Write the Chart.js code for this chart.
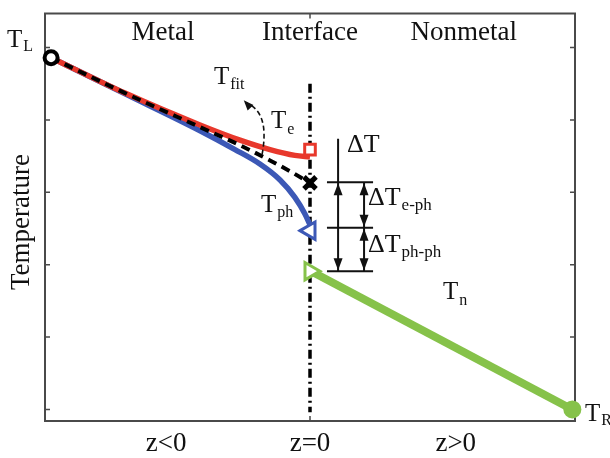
<!DOCTYPE html>
<html>
<head>
<meta charset="utf-8">
<script src="https://cdn.jsdelivr.net/npm/chart.js@4.4.1/dist/chart.umd.min.js"></script>
<style>
body { margin: 0; background: #fff; }
canvas { display: block; }
</style>
</head>
<body>
<canvas id="chart" width="610" height="458"></canvas>
<script>
// z position (interface at 0) and temperature in tick units
const fitZ = [-0.977, -0.698, -0.415, -0.264, -0.151, -0.075, 0];
const fitT = [4.86, 4.37, 3.90, 3.65, 3.44, 3.29, 3.13];
const elecZ = [-0.977, -0.698, -0.415, -0.264, -0.151, -0.057, 0];
const elecT = [4.86, 4.37, 3.93, 3.72, 3.59, 3.51, 3.49];
const phonZ = [-0.977, -0.698, -0.415, -0.283, -0.189, -0.113, -0.057, -0.019, 0];
const phonT = [4.86, 4.36, 3.85, 3.59, 3.39, 3.17, 2.93, 2.70, 2.55];
const nonZ = [0.004, 0.99];
const nonT = [1.91, 0];
const interfaceT = [4.5, -0.04];

// end markers
const leftEnd = [-0.977, 4.86];
const rightEnd = [0.99, 0];
const elecEnd = [0, 3.59];
const fitEnd = [0, 3.13];
const phonEnd = [0, 2.47];
const nonStart = [0, 1.91];

const yTicks = [0, 1, 2, 3, 4, 5];
const xTicks = [0];
const regionLabels = ['Metal', 'Interface', 'Nonmetal'];
const regionZ = [-0.555, 0, 0.58];
const zLabels = ['z<0', 'z=0', 'z>0'];
const zLabelZ = [-0.543, 0, 0.55];
// temperature levels of the jumps at the interface
const jumpT = [3.14, 2.51, 1.91];

const RED = 'rgb(232,56,44)';
const BLUE = 'rgb(60,88,182)';
const GREEN = 'rgb(134,194,74)';
const SERIF = '"Liberation Serif", "DejaVu Serif", serif';

const toPts = (xs, ys) => xs.map((x, i) => ({ x: x, y: ys[i] }));

function marker(p, style, opts) {
    return Object.assign({
        data: [{ x: p[0], y: p[1] }],
        showLine: false,
        pointStyle: style,
        pointBackgroundColor: '#fff',
        clip: false,
        order: -1
    }, opts);
}

function arrowHead(ctx, x, y, dir) {
    ctx.beginPath();
    ctx.moveTo(x, y);
    ctx.lineTo(x - 4.5, y - dir * 12);
    ctx.lineTo(x + 4.5, y - dir * 12);
    ctx.closePath();
    ctx.fill();
}

function subText(ctx, x, y, main, sub, size, subSize, dy) {
    ctx.font = size + 'px ' + SERIF;
    ctx.textAlign = 'left';
    ctx.textBaseline = 'middle';
    ctx.fillText(main, x, y);
    const w = ctx.measureText(main).width;
    ctx.font = subSize + 'px ' + SERIF;
    ctx.fillText(sub, x + w + 1, y + dy);
}

const framePlugin = {
    id: 'frame',
    beforeDatasetsDraw(chart) {
        const ctx = chart.ctx;
        const a = chart.chartArea;
        const xs = chart.scales.x, ys = chart.scales.y;
        ctx.save();
        ctx.strokeStyle = '#4a4a4a';
        ctx.lineWidth = 2;
        ctx.strokeRect(a.left, a.top, a.right - a.left, a.bottom - a.top);
        ctx.lineWidth = 1.5;
        ctx.beginPath();
        yTicks.forEach(v => {
            const py = ys.getPixelForValue(v);
            ctx.moveTo(a.left, py); ctx.lineTo(a.left + 5, py);
            ctx.moveTo(a.right, py); ctx.lineTo(a.right - 5, py);
        });
        xTicks.forEach(v => {
            const px = xs.getPixelForValue(v);
            ctx.moveTo(px, a.top); ctx.lineTo(px, a.top + 5);
            ctx.moveTo(px, a.bottom); ctx.lineTo(px, a.bottom - 5);
        });
        ctx.stroke();
        ctx.restore();
    },
    afterDatasetsDraw(chart) {
        const ctx = chart.ctx;
        const xs = chart.scales.x, ys = chart.scales.y;
        const X = v => xs.getPixelForValue(v);
        const Y = v => ys.getPixelForValue(v);
        ctx.save();
        ctx.fillStyle = '#111';
        ctx.strokeStyle = '#111';

        // region names and z labels
        ctx.font = '27px ' + SERIF;
        ctx.textAlign = 'center';
        ctx.textBaseline = 'middle';
        regionLabels.forEach((t, i) => ctx.fillText(t, X(regionZ[i]), 33));
        zLabels.forEach((t, i) => ctx.fillText(t, X(zLabelZ[i]), 444));

        // y axis title
        ctx.save();
        ctx.translate(22, 222);
        ctx.rotate(-Math.PI / 2);
        ctx.font = '27px ' + SERIF;
        ctx.fillText('Temperature', 0, 0);
        ctx.restore();

        // curve labels
        subText(ctx, 7, 40, 'T', 'L', 25, 16, 7);
        subText(ctx, 585, 414, 'T', 'R', 25, 16, 7);
        subText(ctx, 214, 77, 'T', 'fit', 25, 16, 8);
        subText(ctx, 271, 121, 'T', 'e', 25, 16, 9);
        subText(ctx, 261, 205, 'T', 'ph', 25, 16, 8);
        subText(ctx, 443, 292, 'T', 'n', 25, 16, 9);

        // dashed arrow from the T_e / T_fit split up to the T_fit label
        ctx.lineWidth = 1.6;
        ctx.setLineDash([5, 3]);
        ctx.beginPath();
        ctx.moveTo(X(-0.181), Y(3.52));
        ctx.quadraticCurveTo(X(-0.15), Y(4.12), X(-0.245), Y(4.24));
        ctx.stroke();
        ctx.setLineDash([]);
        ctx.save();
        ctx.translate(X(-0.25), Y(4.27));
        ctx.rotate(-0.75);
        ctx.beginPath();
        ctx.moveTo(0, 0); ctx.lineTo(-4, 10); ctx.lineTo(4, 10); ctx.closePath();
        ctx.fill();
        ctx.restore();

        // temperature jump bars and arrows
        const x1 = X(0.064), x2 = X(0.238), xa = X(0.106), xb = X(0.204);
        ctx.lineWidth = 2;
        ctx.beginPath();
        jumpT.forEach(v => { ctx.moveTo(x1, Y(v)); ctx.lineTo(x2, Y(v)); });
        ctx.moveTo(xa, Y(3.74)); ctx.lineTo(xa, Y(jumpT[2]));
        ctx.moveTo(xb, Y(jumpT[0])); ctx.lineTo(xb, Y(jumpT[2]));
        ctx.stroke();
        arrowHead(ctx, xa, Y(jumpT[0]) + 1, -1);
        arrowHead(ctx, xa, Y(jumpT[2]) - 1, 1);
        arrowHead(ctx, xb, Y(jumpT[0]) + 1, -1);
        arrowHead(ctx, xb, Y(jumpT[1]) - 1, 1);
        arrowHead(ctx, xb, Y(jumpT[1]) + 1, -1);
        arrowHead(ctx, xb, Y(jumpT[2]) - 1, 1);

        ctx.font = '26px ' + SERIF;
        ctx.textAlign = 'left';
        ctx.fillText('ΔT', 347, 145);
        subText(ctx, 368, 198, 'ΔT', 'e-ph', 26, 17, 8);
        subText(ctx, 368, 245, 'ΔT', 'ph-ph', 26, 17, 8);
        ctx.restore();
    }
};

new Chart(document.getElementById('chart'), {
    type: 'scatter',
    data: {
        datasets: [
            {
                data: toPts(fitZ, fitT), showLine: true, borderColor: '#000', borderWidth: 4,
                borderDash: [9, 6], cubicInterpolationMode: 'monotone', pointRadius: 0, order: 0
            },
            {
                data: toPts(elecZ, elecT), showLine: true, borderColor: RED, borderWidth: 5.5,
                cubicInterpolationMode: 'monotone', pointRadius: 0, order: 1
            },
            {
                data: toPts(phonZ, phonT), showLine: true, borderColor: BLUE, borderWidth: 5.5,
                cubicInterpolationMode: 'monotone', pointRadius: 0, order: 2
            },
            {
                data: toPts(nonZ, nonT), showLine: true, borderColor: GREEN, borderWidth: 8,
                pointRadius: 0, order: 2
            },
            {
                data: [{ x: 0, y: interfaceT[0] }, { x: 0, y: interfaceT[1] }], showLine: true,
                borderColor: '#000', borderWidth: 3.5, borderDash: [9, 4, 2, 4], pointRadius: 0, order: 3
            },
            marker(leftEnd, 'circle', { pointRadius: 6.5, pointBorderWidth: 4, pointBorderColor: '#000' }),
            marker(elecEnd, 'rect', { pointRadius: 7.5, pointBorderWidth: 3, pointBorderColor: RED }),
            marker(fitEnd, 'crossRot', { pointRadius: 8.5, pointBorderWidth: 5, pointBorderColor: '#000' }),
            marker(phonEnd, 'triangle', { pointRadius: 10, pointBorderWidth: 3, pointBorderColor: BLUE, pointRotation: 270 }),
            marker(nonStart, 'triangle', { pointRadius: 10, pointBorderWidth: 3, pointBorderColor: GREEN, pointRotation: 90 }),
            marker(rightEnd, 'circle', { pointRadius: 9, pointBorderWidth: 0, pointBackgroundColor: GREEN, pointBorderColor: GREEN })
        ]
    },
    options: {
        responsive: false,
        animation: false,
        layout: { padding: { left: 45, right: 35, top: 5, bottom: 37 } },
        plugins: { legend: { display: false }, tooltip: { enabled: false } },
        scales: {
            x: { type: 'linear', min: -1, max: 1, display: false },
            y: { type: 'linear', min: -0.16, max: 5.47, display: false }
        }
    },
    plugins: [framePlugin]
});
</script>
</body>
</html>
